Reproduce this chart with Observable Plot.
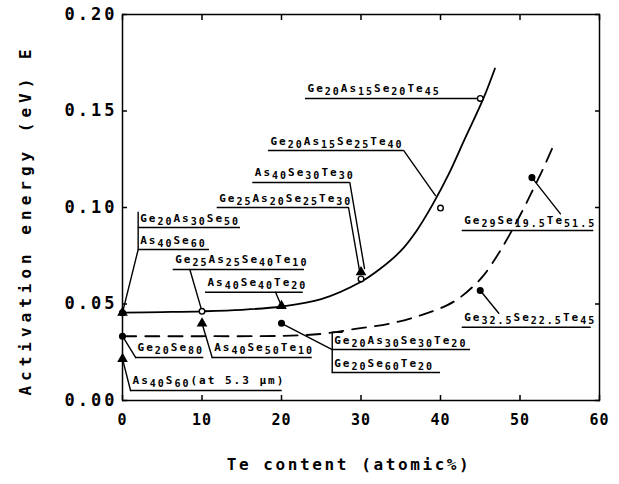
<!DOCTYPE html>
<html>
<head>
<meta charset="utf-8">
<script src="https://cdn.jsdelivr.net/npm/d3@7"></script>
<script src="https://cdn.jsdelivr.net/npm/@observablehq/plot@0.6"></script>
<style>
  body { margin: 0; background: #fff; }
</style>
</head>
<body>
<div id="chart"></div>
<script>
// Trend curves: Te content (atomic %) vs activation energy E (eV)
const solidTe = [0, 5, 10, 15, 20, 25, 30, 32.5, 35, 37, 39, 41, 43, 45.4, 46.85];
const solidE  = [0.0455, 0.0458, 0.0462, 0.0470, 0.0487, 0.0525, 0.0615, 0.0685, 0.0775, 0.088, 0.1015, 0.117, 0.135, 0.1565, 0.172];
const dashedTe = [0, 10, 20, 25, 29.5, 33.6, 37.4, 40.8, 42.5, 44.2, 45.5, 47.2, 48.5, 50.4, 51.7, 52.9, 54.4];
const dashedE  = [0.0333, 0.0333, 0.0335, 0.0345, 0.0372, 0.0398, 0.044, 0.0493, 0.0535, 0.0595, 0.0652, 0.0755, 0.0845, 0.099, 0.1098, 0.120, 0.134];

// Measured glasses, by marker type
const openTe = [10, 30, 40, 45];
const openE  = [0.0462, 0.063, 0.0997, 0.1565];
const triTe  = [0, 10, 20, 30, 0];
const triE   = [0.0455, 0.0400, 0.049, 0.0665, 0.0216];
const dotTe  = [0, 0, 20, 51.5, 45];
const dotE   = [0.0455, 0.0333, 0.040, 0.1155, 0.057];

// Composition labels ("_" marks a subscript) and their underlines
const labelText = [
  "Ge_20As_30Se_50", "As_40Se_60", "Ge_25As_25Se_40Te_10", "As_40Se_40Te_20",
  "As_40Se_30Te_30", "Ge_25As_20Se_25Te_30", "Ge_20As_15Se_25Te_40", "Ge_20As_15Se_20Te_45",
  "Ge_29Se_19.5Te_51.5", "Ge_32.5Se_22.5Te_45", "Ge_20Se_80", "As_40Se_50Te_10",
  "As_40S_60(at 5.3 μm)", "Ge_20As_30Se_30Te_20", "Ge_20Se_60Te_20"
];
const labelX0 = [1.97, 1.97, 6.38, 10.44, 16.39, 11.91, 18.36, 23.02, 42.73, 42.73, 1.64, 11.28, 1.01, 26.38, 26.38];
const labelX1 = [14.84, 10.94, 22.89, 22.73, 28.59, 28.43, 35.38, 45, 59.28, 58.96, 10.23, 23.86, 20.09, 43.77, 40];
const labelE  = [0.0896, 0.0782, 0.0679, 0.0561, 0.1130, 0.1, 0.1295, 0.1565, 0.0881, 0.038, 0.0223, 0.0223, 0.0052, 0.0264, 0.0145];

// Leader lines from labels to their samples, as [Te, E] vertices
const leaders = [
  [[1.97, 0.0976], [1.97, 0.0782], [0, 0.0455]],
  [[8.47, 0.0679], [10, 0.0462]],
  [[19.25, 0.0561], [20, 0.049]],
  [[28.59, 0.1130], [30.44, 0.0684]],
  [[28.43, 0.1], [29.81, 0.0674]],
  [[35.38, 0.1295], [39.37, 0.1062]],
  [[51.5, 0.1155], [55.09, 0.0967]],
  [[45, 0.057], [47.33, 0.0452]],
  [[0, 0.0333], [1.64, 0.0223]],
  [[10, 0.040], [11.28, 0.0223]],
  [[0, 0.0216], [1.01, 0.0052]],
  [[20, 0.040], [26.38, 0.0264]],
  [[27.64, 0.0354], [26.38, 0.0354], [26.38, 0.0145]]
];

const xTicks = [0, 10, 20, 30, 40, 50, 60];
const yTicks = [0, 0.05, 0.10, 0.15, 0.20];

const solid = solidTe.map((x, i) => ({x, y: solidE[i]}));
const dashed = dashedTe.map((x, i) => ({x, y: dashedE[i]}));
const open = openTe.map((x, i) => ({x, y: openE[i]}));
const tri = triTe.map((x, i) => ({x, y: triE[i]}));
const dots = dotTe.map((x, i) => ({x, y: dotE[i]}));
const labels = labelText.map((t, i) => ({t, x0: labelX0[i], x1: labelX1[i], y: labelE[i]}));
const leaderRows = leaders.flatMap((pts, id) => pts.map(([x, y]) => ({id, x, y})));

const mono = "'DejaVu Sans Mono', 'Liberation Mono', monospace";

const chart = Plot.plot({
  width: 619,
  height: 484,
  marginLeft: 122,
  marginRight: 20,
  marginTop: 14,
  marginBottom: 84,
  x: {domain: [0, 60]},
  y: {domain: [0, 0.2]},
  style: {fontFamily: mono, fontWeight: "bold", background: "#fff", color: "#000"},
  marks: [
    Plot.frame({stroke: "#000", strokeWidth: 1.5}),
    Plot.axisY({ticks: yTicks, anchor: "left", tickSize: -5, tickPadding: 10, strokeWidth: 1.5,
      tickFormat: d3.format(".2f"), fontSize: 17, label: null}),
    Plot.axisY({ticks: yTicks, anchor: "right", tickSize: -5, strokeWidth: 1.5,
      tickFormat: () => "", label: null}),
    Plot.axisX({ticks: xTicks, anchor: "bottom", tickSize: -5, tickPadding: 19, strokeWidth: 1.5,
      fontSize: 15, label: null}),
    Plot.axisX({ticks: xTicks, anchor: "top", tickSize: -5, strokeWidth: 1.5,
      tickFormat: () => "", label: null}),
    Plot.line(solid, {x: "x", y: "y", curve: "catmull-rom", stroke: "#000", strokeWidth: 1.8}),
    Plot.line(dashed, {x: "x", y: "y", curve: "catmull-rom", stroke: "#000", strokeWidth: 1.8,
      strokeDasharray: "14,9"}),
    Plot.ruleY(labels, {y: "y", x1: "x0", x2: "x1", stroke: "#000", strokeWidth: 1.5}),
    Plot.line(leaderRows, {x: "x", y: "y", z: "id", stroke: "#000", strokeWidth: 1.4}),
    Plot.text(labels, {x: "x0", y: "y", text: "t", textAnchor: "start", lineAnchor: "bottom",
      dx: 2, dy: -6, fontSize: 11, fill: "#000"}),
    Plot.dot(open, {x: "x", y: "y", r: 2.8, fill: "#fff", stroke: "#000", strokeWidth: 1.4}),
    Plot.dot(tri, {x: "x", y: "y", symbol: "triangle", r: 3, fill: "#000", stroke: "#000"}),
    Plot.dot(dots, {x: "x", y: "y", r: 2.8, fill: "#000", stroke: "#000"})
  ]
});

const svg = d3.select(chart);

// Subscripted formulas: split "Ge_20As_30..." into baseline and lowered runs
svg.selectAll("text").each(function () {
  const s = this.textContent;
  if (!s.includes("_")) return;
  const node = d3.select(this);
  node.text(null).attr("y", null).style("letter-spacing", "2px");
  let shifted = false;
  for (const m of s.matchAll(/_([\d.]+)|([^_]+)/g)) {
    const sub = m[1] !== undefined;
    const span = node.append("tspan").text(sub ? m[1] : m[2]);
    if (sub) span.attr("font-size", 10);
    if (sub !== shifted) span.attr("dy", sub ? 3 : -3);
    shifted = sub;
  }
});

svg.selectAll('g[aria-label="y-axis tick label"] text').style("letter-spacing", "3px");
svg.selectAll('g[aria-label="x-axis tick label"] text').style("letter-spacing", "1px");

// Axis titles
svg.append("text")
  .attr("transform", "translate(31,220) rotate(-90)")
  .attr("text-anchor", "middle")
  .attr("font-size", 16)
  .style("letter-spacing", "5px")
  .text("Activation energy (eV) E");

svg.append("text")
  .attr("x", 349)
  .attr("y", 470)
  .attr("text-anchor", "middle")
  .attr("font-size", 16)
  .style("letter-spacing", "2.6px")
  .text("Te content (atomic%)");

document.getElementById("chart").append(chart);
</script>
</body>
</html>
